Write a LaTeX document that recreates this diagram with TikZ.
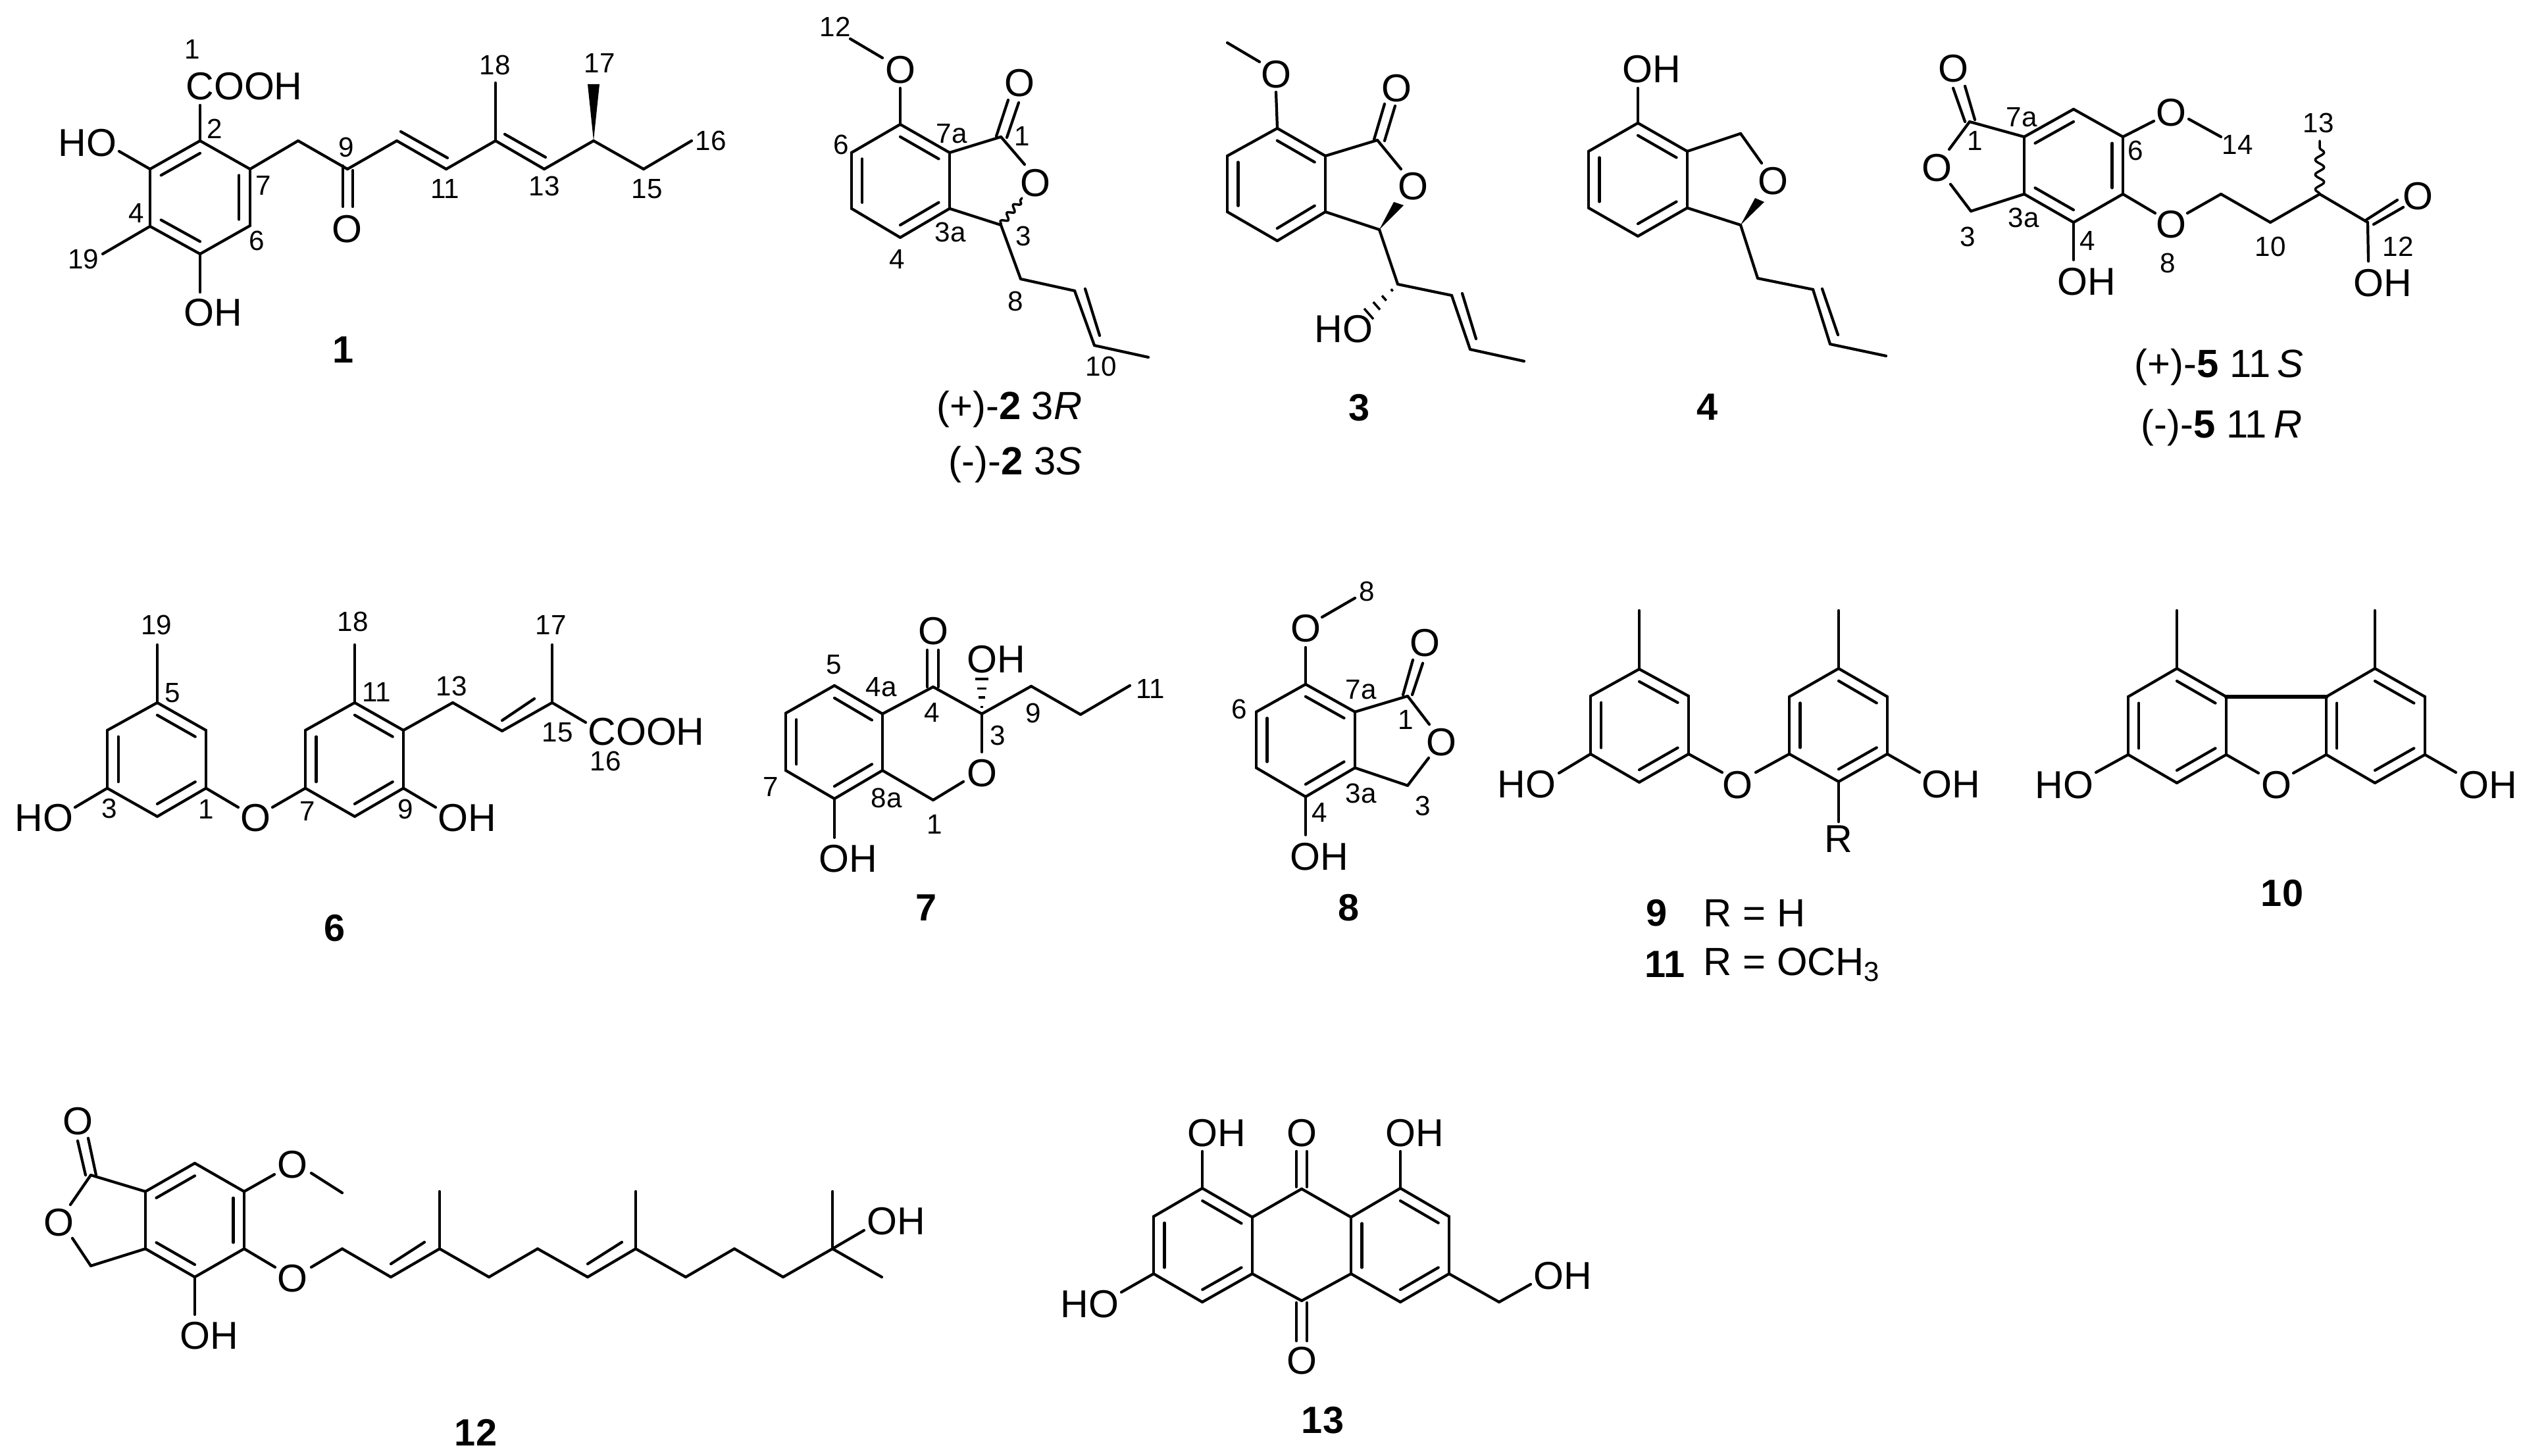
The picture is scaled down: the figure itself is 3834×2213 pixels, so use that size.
\documentclass[tikz,border=0pt]{standalone}
\usepackage{fontspec}
\setmainfont{Liberation Sans}
\usetikzlibrary{calc,decorations.pathmorphing}
\tikzset{
  bond/.style={line width=1.2pt,line cap=round,line join=round,black},
  thickbond/.style={bond,line width=1.9pt},
  wavy/.style={bond,line width=1pt,decorate,decoration={snake,amplitude=1.3pt,segment length=4.4pt}},
  wavylong/.style={bond,line width=1pt,decorate,decoration={snake,amplitude=1.9pt,segment length=6.4pt}},
  hashmark/.style={bond,line width=1pt,line cap=butt},
  atomlabel/.style={inner sep=0pt,font=\fontsize{16.8}{20}\selectfont},
  numlabel/.style={inner sep=0pt,font=\fontsize{12}{14}\selectfont},
  caplabel/.style={inner sep=0pt,font=\fontsize{17}{20}\selectfont},
  cmpdlabel/.style={inner sep=0pt,font=\fontsize{16.4}{20}\selectfont\bfseries},
}
\newcommand{\atoms}[2]{\foreach \nm/\px/\py in {#2}{\coordinate (#1\nm) at (\px,\py);}}
\newcommand{\bonds}[2]{\foreach \ba/\bb in {#2}{\draw[bond] (#1\ba)--(#1\bb);}}
\newcommand{\inner}[3]{\foreach \ba/\bb in {#3}{\draw[bond] ($(#1\ba)!0.22!(#1#2)$)--($(#1\bb)!0.22!(#1#2)$);}}
\newcommand{\nums}[2]{\foreach \px/\py/\tx [count=\k] in {#2}{\node[numlabel] (#1n\k) at (\px,\py) {\tx};}}
\newcommand{\chem}[2]{\foreach \px/\py/\tx [count=\k] in {#2}{\node[atomlabel] (#1t\k) at (\px,\py) {\tx};}}
\newcommand{\wedgeb}[3]{\fill[black] (#1)--(#2)--(#3)--cycle;}
\newcommand{\hashb}[3]{\foreach \s in {0.2,0.47,0.73,1}{\draw[hashmark] ($(#1)!\s!(#2)$)--($(#1)!\s!(#3)$);}}
\begin{document}
\begin{tikzpicture}[x=0.01cm,y=-0.01cm]
\fill[white] (0,0) rectangle (3834,2213);
\useasboundingbox (0,0) rectangle (3834,2213);

% ---------- 1
\atoms{A}{2/304/214,3/228/257,4/228/344,5/304/386,6/380/343,7/380/257,c/304/300,a/304/160,b/181/230,d/156/386,e/304/444,8/453/214,9/528/257,o1/521/314,o2/536/314,p1/521/252,p2/536/259,10/603/214,11/678/257,12/753/214,13/827/257,14/902/214,15/978/257,16/1051/214,m/753/126,i1/609/200,i2/680/240,i3/767/204,i4/829/239,w1/893/128,w2/911/128}
\bonds{A}{2/3,3/4,4/5,5/6,6/7,7/2,2/a,3/b,4/d,5/e,7/8,8/9,p1/o1,p2/o2,9/10,10/11,11/12,12/13,13/14,14/15,15/16,12/m,i1/i2,i3/i4}
\inner{A}{c}{2/3,7/6,4/5}
\wedgeb{A14}{Aw1}{Aw2}
\chem{A}{371/131/COOH,133/217/HO,324/475/OH,527/348/O}
\nums{A}{292/75/1,326/196/2,400/282/7,390/366/6,207/324/4,127/394/19,526/224/9,752/99/18,911/96/17,1080/214/16,983/287/15,827/283/13,676/287/11}
\node[cmpdlabel] (Acap) at (522,532) {1};

% ---------- 2
\atoms{B}{7/1368/189,7a/1443/232,3a/1443/317,4/1368/361,5/1294/317,6/1294/232,c/1368/275,1/1521/208,p1/1514/207,p2/1530/209,q1/1532/152,q2/1548/156,r/1557/250,3/1521/342,s/1553/301,8/1551/424,9/1633/442,10/1663/525,11/1745/543,i1/1649/439,i2/1671/510,oa/1368/134,ob/1341/88,oc/1292/59}
\bonds{B}{7/7a,7a/3a,3a/4,4/5,5/6,6/7,7a/1,p1/q1,p2/q2,1/r,3a/3,3/8,8/9,9/10,10/11,i1/i2,7/oa,ob/oc}
\inner{B}{c}{7/7a,3a/4,5/6}
\draw[wavy] (B3)--(Bs);
\chem{B}{1368/106/O,1549/126/O,1573/278/O}
\nums{B}{1269/41/12,1278/220/6,1446/203/7a,1553/207/1,1444/353/3a,1555/359/3,1363/394/4,1543/458/8,1673/557/10}
\node[caplabel,anchor=east] (Bcap1) at (1645,622) {(+)-\textbf{2} 3\textit{R}};
\node[caplabel,anchor=east] (Bcap2) at (1645,706) {(-)-\textbf{2} 3\textit{S}};

% ---------- 3
\atoms{C}{7/1941/195,7a/2014/237,3a/2014/322,4/1941/366,5/1865/322,6/1865/237,c/1940/280,1/2093/213,p1/2088/212,p2/2104/214,q1/2104/158,q2/2120/161,r/2129/257,3/2096/349,w1/2118/307,w2/2133/312,8/2124/432,9/2206/449,10/2234/531,11/2316/549,i1/2222/446,i2/2243/515,oa/1939/140,ob/1914/94,oc/1865/65,h1/2073/469,h2/2087/485}
\bonds{C}{7/7a,7a/3a,3a/4,4/5,5/6,6/7,7a/1,p1/q1,p2/q2,1/r,3a/3,3/8,8/9,9/10,10/11,i1/i2,7/oa,ob/oc}
\inner{C}{c}{7/7a,3a/4,5/6}
\wedgeb{C3}{Cw1}{Cw2}
\hashb{C8}{Ch1}{Ch2}
\chem{C}{1939/113/O,2122/134/O,2147/283/O,2042/500/HO}
\node[cmpdlabel] (Ccap) at (2066,620) {3};

% ---------- 4
\atoms{D}{7/2489/187,7a/2564/230,3a/2564/316,4/2489/359,5/2414/316,6/2414/230,c/2489/273,oa/2489/134,1/2645/203,r/2677/248,3/2645/342,w1/2667/301,w2/2681/307,8/2671/423,9/2755/440,10/2781/523,11/2866/541,i1/2769/439,i2/2793/509}
\bonds{D}{7/7a,7a/3a,3a/4,4/5,5/6,6/7,7/oa,7a/1,1/r,3a/3,3/8,8/9,9/10,10/11,i1/i2}
\inner{D}{c}{7/7a,3a/4,5/6}
\wedgeb{D3}{Dw1}{Dw2}
\chem{D}{2510/105/OH,2694/275/O}
\node[cmpdlabel] (Dcap) at (2594,619) {4};

% ---------- 5
\atoms{E}{1/2993/185,p1/2986/185,p2/3001/182,q1/2968/134,q2/2986/131,r/2962/227,s/2964/280,3/2995/321,7a/3076/208,3a/3076/295,4/3151/338,5/3226/295,6/3226/208,7/3151/166,c/3151/252,a/3273/184,b/3326/181,d/3375/208,f/3275/324,g/3324/324,9/3375/295,10/3450/338,11/3525/295,12/3598/338,w/3525/214,t1/3596/334,t2/3643/304,t3/3607/341,t4/3652/315,u/3599/397,v/3151/395}
\bonds{E}{7a/1,p1/q1,p2/q2,1/r,s/3,3/3a,7a/3a,3a/4,4/5,5/6,6/7,7/7a,6/a,b/d,5/f,g/9,9/10,10/11,11/12,t1/t2,t3/t4,12/u,4/v}
\inner{E}{c}{7a/7,5/6,3a/4}
\draw[wavylong] (E11)--(Ew);
\chem{E}{2968/104/O,2943/255/O,3299/171/O,3299/341/O,3674/298/O,3621/430/OH,3171/428/OH}
\nums{E}{3072/178/7a,3001/214/1,3075/331/3a,2990/360/3,3172/366/4,3245/229/6,3400/220/14,3523/187/13,3450/375/10,3294/400/8,3644/375/12}
\node[caplabel,anchor=east] (Ecap1) at (3501,558) {(+)-\textbf{5} 11\,\textit{S}};
\node[caplabel,anchor=east] (Ecap2) at (3499,650) {(-)-\textbf{5} 11\,\textit{R}};

% ---------- 6
\atoms{F}{1t/239/1068,1ur/313/1110,1lr/313/1198,1b/239/1241,1ll/163/1198,1ul/163/1110,1c/239/1154,1m/239/980,a/114/1227,b/362/1227,d/414/1227,2t/539/1068,2ur/613/1110,2lr/613/1198,2b/539/1241,2ll/464/1198,2ul/464/1110,2c/539/1154,2m/539/980,e/662/1227,13/688/1068,14/763/1111,15/839/1068,17/839/980,g/890/1098,i1/763/1095,i2/812/1062}
\bonds{F}{1t/1ur,1ur/1lr,1lr/1b,1b/1ll,1ll/1ul,1ul/1t,1t/1m,1ll/a,1lr/b,d/2ll,2t/2ur,2ur/2lr,2lr/2b,2b/2ll,2ll/2ul,2ul/2t,2t/2m,2lr/e,2ur/13,13/14,14/15,15/17,15/g,i1/i2}
\inner{F}{1c}{1t/1ur,1ll/1ul,1lr/1b}
\inner{F}{2c}{2t/2ur,2ll/2ul,2lr/2b}
\chem{F}{67/1243/HO,388/1243/O,710/1243/OH,982/1112/COOH}
\nums{F}{238/950/19,262/1053/5,536/945/18,572/1052/11,686/1043/13,837/950/17,847/1113/15,920/1157/16,166/1229/3,313/1230/1,467/1233/7,616/1230/9}
\node[cmpdlabel] (Fcap) at (509,1411) {6};

% ---------- 7
\atoms{G}{5/1268/1042,6/1194/1084,7/1194/1171,8/1268/1214,8a/1341/1171,4a/1341/1085,c/1268/1128,4/1418/1044,3/1492/1085,1/1418/1216,p1/1409/1044,p2/1426/1044,q1/1409/988,q2/1426/988,r/1492/1143,s/1464/1188,9/1567/1043,10/1642/1086,11/1717/1042,u/1268/1273,h1/1482/1032,h2/1502/1032}
\bonds{G}{5/6,6/7,7/8,8/8a,8a/4a,4a/5,4a/4,4/3,3/r,s/1,1/8a,p1/q1,p2/q2,3/9,9/10,10/11,8/u}
\inner{G}{c}{5/4a,6/7,8/8a}
\hashb{G3}{Gh1}{Gh2}
\chem{G}{1418/959/O,1514/1002/OH,1492/1175/O,1289/1305/OH}
\nums{G}{1267/1010/5,1171/1196/7,1339/1044/4a,1416/1083/4,1516/1118/3,1570/1084/9,1748/1047/11,1347/1213/8a,1420/1253/1}
\node[cmpdlabel] (Gcap) at (1408,1380) {7};

% ---------- 8
\atoms{H}{7/1984/1040,7a/2059/1082,3a/2059/1167,4/1984/1211,5/1909/1167,6/1909/1082,c/1984/1125,1/2139/1058,p1/2132/1056,p2/2146/1056,q1/2147/1003,q2/2162/1008,r/2172/1101,s/2171/1152,3/2139/1194,a/1984/984,b/2009/938,d/2059/909,e/1984/1269}
\bonds{H}{7/7a,7a/3a,3a/4,4/5,5/6,6/7,7a/1,p1/q1,p2/q2,1/r,s/3,3/3a,7/a,b/d,4/e}
\inner{H}{c}{7/7a,5/6,4/3a}
\chem{H}{2165/977/O,2190/1128/O,1984/955/O,2005/1302/OH}
\nums{H}{2077/899/8,2068/1048/7a,1883/1078/6,2136/1094/1,2068/1206/3a,2162/1225/3,2005/1235/4}
\node[cmpdlabel] (Hcap) at (2050,1380) {8};

% ---------- 9 / 11
\atoms{I}{1t/2491/1017,1ur/2566/1058,1lr/2566/1146,1b/2491/1189,1ll/2417/1146,1ul/2417/1058,1c/2491/1103,1m/2491/928,a/2369/1175,b/2617/1174,d/2668/1174,2t/2794/1016,2ur/2868/1059,2lr/2868/1146,2b/2794/1188,2ll/2719/1146,2ul/2719/1059,2c/2794/1102,2m/2794/928,e/2917/1174,f/2794/1249}
\bonds{I}{1t/1ur,1ur/1lr,1lr/1b,1b/1ll,1ll/1ul,1ul/1t,1t/1m,1ll/a,1lr/b,d/2ll,2t/2ur,2ur/2lr,2lr/2b,2b/2ll,2ll/2ul,2ul/2t,2t/2m,2lr/e,2b/f}
\inner{I}{1c}{1t/1ur,1ul/1ll,1lr/1b}
\inner{I}{2c}{2t/2ur,2ll/2ul,2lr/2b}
\chem{I}{2320/1192/HO,2640/1193/O,2965/1192/OH,2794/1275/R}
\node[cmpdlabel] (Icap1) at (2517,1388) {9};
\node[caplabel,anchor=west] (Icap2) at (2588,1388) {R = H};
\node[cmpdlabel] (Icap3) at (2530,1466) {11};
\node[caplabel,anchor=west] (Icap4) at (2588,1466) {R = OCH\textsubscript{3}};

% ---------- 10
\atoms{J}{1t/3308/1016,1ur/3383/1059,1lr/3383/1147,1b/3308/1190,1ll/3234/1147,1ul/3234/1059,1c/3308/1103,1m/3308/928,2t/3609/1016,2ul/3535/1059,2ll/3535/1147,2b/3609/1190,2lr/3685/1147,2ur/3685/1059,2c/3609/1103,2m/3609/928,a/3432/1175,b/3485/1175,d/3185/1174,e/3732/1174}
\bonds{J}{1t/1ur,1ur/1lr,1lr/1b,1b/1ll,1ll/1ul,1ul/1t,1t/1m,2t/2ur,2ur/2lr,2lr/2b,2b/2ll,2ll/2ul,2ul/2t,2t/2m,1lr/a,2ll/b,1ll/d,2lr/e}
\draw[thickbond] (J1ur)--(J2ul);
\inner{J}{1c}{1t/1ur,1ul/1ll,1lr/1b}
\inner{J}{2c}{2t/2ur,2ul/2ll,2lr/2b}
\chem{J}{3459/1193/O,3137/1193/HO,3781/1193/OH}
\node[cmpdlabel] (Jcap) at (3468,1358) {10};

% ---------- 12
\atoms{K}{t/296/1768,ur/371/1811,lr/371/1898,b/296/1941,ll/221/1898,ul/221/1811,c/296/1855,1/138/1786,p1/130/1786,p2/146/1786,q1/118/1734,q2/134/1730,r/107/1831,s/110/1882,3/138/1924,a/417/1785,d/473/1783,e/520/1813,f/418/1926,g/473/1926,c1/520/1898,c2/594/1941,c3/668/1898,m3/668/1811,c4/743/1941,c5/817/1898,c6/893/1941,c7/966/1898,m7/966/1811,c8/1042/1941,c9/1116/1898,c10/1190/1941,c11/1265/1898,m11/1265/1811,m12/1340/1941,u/1313/1870,v/296/1998,i1/594/1921,i2/645/1888,i3/893/1921,i4/945/1888}
\bonds{K}{t/ur,ur/lr,lr/b,b/ll,ll/ul,ul/t,ul/1,p1/q1,p2/q2,1/r,s/3,3/ll,ur/a,d/e,lr/f,g/c1,c1/c2,c2/c3,c3/m3,c3/c4,c4/c5,c5/c6,c6/c7,c7/m7,c7/c8,c8/c9,c9/c10,c10/c11,c11/m11,c11/m12,c11/u,b/v,i1/i2,i3/i4}
\inner{K}{c}{t/ul,ur/lr,ll/b}
\chem{K}{118/1704/O,89/1858/O,444/1770/O,444/1943/O,1362/1856/OH,318/2030/OH}
\node[cmpdlabel] (Kcap) at (723,2177) {12};

% ---------- 13
\atoms{L}{1t/1827/1806,1ur/1903/1850,1lr/1903/1936,1b/1827/1979,1ll/1753/1936,1ul/1753/1849,1c/1828/1893,mt/1978/1807,mb/1978/1977,2ul/2053/1850,2ll/2053/1936,2t/2128/1806,2ur/2202/1849,2lr/2202/1936,2b/2128/1979,2c/2128/1893,a/1970/1750,a0/1970/1804,d/1986/1750,d0/1986/1804,e/1970/2038,e0/1970/1980,f/1986/2038,f0/1986/1980,g/1827/1750,h/2128/1750,i/1704/1964,j/2278/1979,k/2326/1952}
\bonds{L}{1t/1ur,1ur/1lr,1lr/1b,1b/1ll,1ll/1ul,1ul/1t,1ur/mt,mt/2ul,1lr/mb,mb/2ll,2t/2ur,2ur/2lr,2lr/2b,2b/2ll,2ll/2ul,2ul/2t,a0/a,d0/d,e0/e,f0/f,1t/g,2t/h,1ll/i,2lr/j,j/k}
\inner{L}{1c}{1t/1ur,1ul/1ll,1lr/1b}
\inner{L}{2c}{2t/2ur,2ul/2ll,2lr/2b}
\chem{L}{1978/1722/O,1978/2068/O,1849/1722/OH,2150/1722/OH,1656/1982/HO,2375/1939/OH}
\node[cmpdlabel] (Lcap) at (2010,2159) {13};
\end{tikzpicture}
\end{document}
